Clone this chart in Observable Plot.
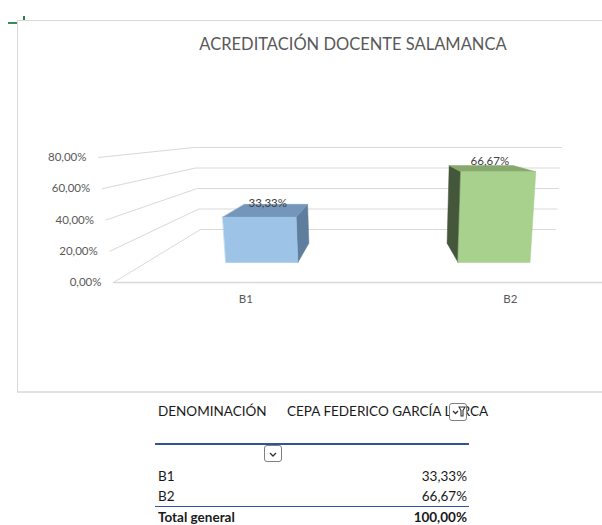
<!DOCTYPE html>
<html><head><meta charset="utf-8">
<script src="https://cdn.jsdelivr.net/npm/d3@7"></script>
<script src="https://cdn.jsdelivr.net/npm/@observablehq/plot@0.6"></script>
<style>
html,body{margin:0;padding:0;background:#fff;}
body{width:602px;height:525px;position:relative;overflow:hidden;font-family:Lato,"Open Sans",sans-serif;}
.abs{position:absolute;white-space:nowrap;line-height:1;}
#frame{position:absolute;left:17px;top:20px;width:600px;height:370px;border-left:1px solid #d9d9d9;border-top:1px solid #d9d9d9;border-bottom:2px solid #dfe3e8;}
#chart{position:absolute;left:18px;top:21px;}
.btn{position:absolute;box-sizing:border-box;border:1px solid #7f7f7f;border-radius:3px;background:#fff;}
</style></head><body>
<div id="frame"></div>
<div class="abs" style="left:8px;top:22px;width:9px;height:2px;background:#3f8a5c"></div>
<div class="abs" style="left:23px;top:16px;width:2px;height:4px;background:#2e7d4f"></div>
<div id="chart"></div>
<div id="title" class="abs"></div>
<div id="table"></div>
<script>
// ---- data ----
const categories = ["B1", "B2"];
const values = [33.33, 66.67];          // percent
const yTicks = [0, 20, 40, 60, 80];     // percent
const totalValue = 100;                 // percent
const chartTitle = "ACREDITACIÓN DOCENTE SALAMANCA";
const headerLabels = ["DENOMINACIÓN", "CEPA FEDERICO GARCÍA LORCA"];
const totalLabel = "Total general";

// ---- style ----
const frontColors = ["#9dc3e6", "#a9d18e"];
const topColors = ["#7596bb", "#87a96d"];
const sideColors = ["#5f7e9e", "#44573a"];
const es = d3.formatLocale({decimal: ",", thousands: ".", grouping: [3], currency: ["", "€"]});
const fmt = v => es.format(".2f")(v) + "%";

// simple 3D perspective (depth factor k: 1 = back wall)
const VX = 1.002, VY = 98.5, HX = 1.042, HY = -2263;
const KF = 1.525, BAR_F = 1.327, BAR_B = 1.135, BAR_W = 0.31;
function P(x, v, k) {
  const X = VX + (x - VX) * k, Y = VY + (v - VY) * k;
  const f = (Y - HY) / (-HY);
  return {x: HX + (X - HX) * f, y: Y};
}

// gridlines (side wall + back wall)
const grid = [];
yTicks.forEach((v, i) => {
  [P(0, v, KF), P(0, v, 1), P(categories.length, v, 1)].forEach(p => grid.push({...p, id: i}));
});
const floor = [P(0, 0, KF), P(categories.length, 0, KF)];

// bar faces
const faces = [];
categories.forEach((c, i) => {
  const v = values[i], x0 = i + 0.5 - BAR_W / 2, x1 = i + 0.5 + BAR_W / 2;
  const add = (name, pts, fill) => pts.forEach(p => faces.push({...p, id: c + name, fill}));
  if (x1 < VX) add("side", [P(x1, 0, BAR_F), P(x1, 0, BAR_B), P(x1, v, BAR_B), P(x1, v, BAR_F)], sideColors[i]);
  if (x0 > VX) add("side", [P(x0, 0, BAR_F), P(x0, 0, BAR_B), P(x0, v, BAR_B), P(x0, v, BAR_F)], sideColors[i]);
  add("top", [P(x0, v, BAR_F), P(x1, v, BAR_F), P(x1, v, BAR_B), P(x0, v, BAR_B)], topColors[i]);
  add("front", [P(x0, 0, BAR_F), P(x1, 0, BAR_F), P(x1, v, BAR_F), P(x0, v, BAR_F)], frontColors[i]);
});

const midK = (BAR_F + BAR_B) / 2;
const chart = Plot.plot({
  width: 584, height: 371, margin: 0,
  x: {type: "linear", domain: [0, 2], range: [182, 537], axis: null},
  y: {type: "linear", domain: [0, 80], range: [208, 126], axis: null},
  color: {type: "identity"},
  style: {fontFamily: "Lato, 'Open Sans', sans-serif", background: "transparent", overflow: "hidden"},
  marks: [
    Plot.line(grid, {x: "x", y: "y", z: "id", stroke: "#d9d9d9", strokeWidth: 1}),
    Plot.line(floor, {x: "x", y: "y", stroke: "#d9d9d9", strokeWidth: 1.5}),
    Plot.line(faces, {x: "x", y: "y", z: "id", fill: "fill", stroke: "fill", strokeWidth: 0.5, curve: "linear-closed"}),
    Plot.text(yTicks, {x: v => P(0, v, KF).x, y: v => P(0, v, KF).y, text: fmt, textAnchor: "end", dx: -12, fill: "#595959", fontSize: 11.5}),
    Plot.text(categories, {x: (d, i) => P(i + 0.5, 0, KF).x, y: (d, i) => P(i + 0.5, 0, KF).y, text: d => d, dy: 16.5, fill: "#595959", fontSize: 11.5}),
    Plot.text(values, {x: (d, i) => P(i + 0.5, d, midK).x, y: (d, i) => P(i + 0.5, d, midK).y, text: fmt, dy: -7, fill: "#404040", fontSize: 11.5})
  ]
});
document.getElementById("chart").appendChild(chart);

// title
const t = document.getElementById("title");
t.textContent = chartTitle;
Object.assign(t.style, {left: "0px", width: "706px", textAlign: "center", top: "36px", fontSize: "16.5px", color: "#595959"});

// pivot table (HTML)
const tbl = document.getElementById("table");
function txt(s, left, baseline, fs, opts = {}) {
  const d = document.createElement("div");
  d.className = "abs";
  d.textContent = s;
  const top = baseline - 0.887 * fs;
  Object.assign(d.style, {top: top + "px", fontSize: fs + "px", color: opts.color || "#1a1a1a", fontWeight: opts.bold ? "700" : "400"});
  if (opts.right != null) d.style.right = (602 - opts.right) + "px"; else d.style.left = left + "px";
  tbl.appendChild(d);
  return d;
}
function hline(x0, x1, y, h, color) {
  const d = document.createElement("div");
  d.className = "abs";
  Object.assign(d.style, {left: x0 + "px", width: (x1 - x0) + "px", top: y + "px", height: h + "px", background: color});
  tbl.appendChild(d);
}
function button(x, y, w, h, funnel) {
  const d = document.createElement("div");
  d.className = "btn";
  Object.assign(d.style, {left: x + "px", top: y + "px", width: w + "px", height: h + "px"});
  d.innerHTML = `<svg width="${w - 2}" height="${h - 2}" style="display:block"><path d="${funnel ? "M3,7 L5.5,9.5 L8,7" : "M5,7 L8,10 L11,7"}" fill="none" stroke="#333" stroke-width="1.3"/>${funnel ? '<path d="M9,3 L15,3 L13,6.5 L13,12 L11,12 L11,6.5 Z" fill="none" stroke="#333" stroke-width="1.1"/>' : ""}</svg>`;
  tbl.appendChild(d);
}
const FS = 13.5;
txt(headerLabels[0], 158, 417, FS);
txt(headerLabels[1], 287, 417, FS);
button(449, 403, 18, 18, true);
hline(155, 469, 442.5, 2, "#2f5597");
button(264, 445, 18, 17, false);
categories.forEach((c, i) => {
  txt(c, 158, 481.5 + i * 20, FS);
  txt(fmt(values[i]), null, 481.5 + i * 20, FS, {right: 467});
});
hline(155, 469, 505.5, 1.5, "#2f5597");
txt(totalLabel, 158, 522.5, FS, {bold: true});
txt(fmt(totalValue), null, 522.5, FS, {bold: true, right: 467});
</script>
</body></html>
